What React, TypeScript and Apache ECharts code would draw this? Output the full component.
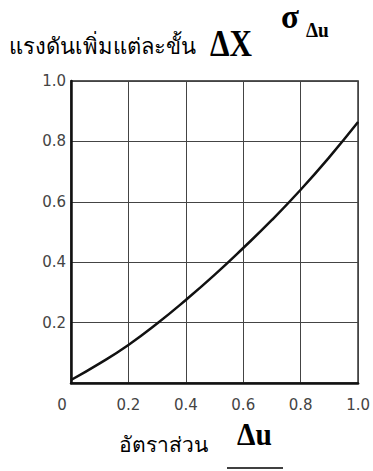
import React, { useEffect, useRef } from "react";
import * as echarts from "echarts";

const ratioValues = [0, 0.1, 0.2, 0.3, 0.4, 0.5, 0.6, 0.7, 0.8, 0.9, 1.0];
const pressureValues = [0.01, 0.065, 0.126, 0.197, 0.275, 0.358, 0.447, 0.54, 0.64, 0.748, 0.864];
const titleThai = "แรงดันเพิ่มแต่ละขั้น";
const titleSymbol = "ΔX";
const sigmaText = "σ";
const sigmaSub = "Δu";
const xNameThai = "อัตราส่วน";
const xNameSymbol = "Δu";

export default function App() {
  const ref = useRef<HTMLDivElement>(null);
  useEffect(() => {
    if (!ref.current) return;
    const chart = echarts.init(ref.current, null, { renderer: "svg" });
    const tickFont = { fontFamily: "DejaVu Sans", fontSize: 15, color: "#444" };
    chart.setOption({
      animation: false,
      backgroundColor: "#fff",
      grid: {
        left: 71,
        right: 10,
        top: 81,
        bottom: 88,
        show: true,
        borderColor: "#222",
        borderWidth: 1.5,
      },
      xAxis: {
        type: "value",
        min: 0,
        max: 1,
        interval: 0.2,
        axisLine: { show: true, lineStyle: { color: "#111", width: 2.5 } },
        axisTick: { show: false },
        splitLine: { show: true, lineStyle: { color: "#444", width: 1 } },
        axisLabel: {
          ...tickFont,
          margin: 14,
          formatter: (v: number) => (v === 0 ? "{z|0}" : v.toFixed(1)),
          rich: { z: { ...tickFont, padding: [0, 18, 0, 0] } },
        },
      },
      yAxis: {
        type: "value",
        min: 0,
        max: 1,
        interval: 0.2,
        axisLine: { show: true, lineStyle: { color: "#111", width: 2.5 } },
        axisTick: { show: false },
        splitLine: { show: true, lineStyle: { color: "#444", width: 1 } },
        axisLabel: {
          ...tickFont,
          margin: 5,
          showMinLabel: false,
          formatter: (v: number) => v.toFixed(1),
        },
      },
      series: [
        {
          type: "line",
          smooth: true,
          showSymbol: false,
          data: ratioValues.map((x, i) => [x, pressureValues[i]]),
          lineStyle: { color: "#111", width: 2.5 },
        },
      ],
      graphic: [
        {
          type: "text",
          left: 9,
          top: 34,
          style: { text: titleThai, fontFamily: "Noto Sans, sans-serif", fontSize: 22, fill: "#000" },
        },
        {
          type: "text",
          x: 210,
          y: 24,
          scaleX: 0.82,
          style: { text: titleSymbol, fontFamily: "Liberation Serif", fontWeight: "bold", fontSize: 38, fill: "#000" },
        },
        {
          type: "text",
          x: 281,
          y: 0,
          style: { text: sigmaText, fontFamily: "Liberation Serif", fontWeight: "bold", fontSize: 33, fill: "#000" },
        },
        {
          type: "text",
          x: 306,
          y: 19,
          scaleX: 0.92,
          style: { text: sigmaSub, fontFamily: "Liberation Serif", fontWeight: "bold", fontSize: 21, fill: "#000" },
        },
        {
          type: "text",
          left: 119,
          top: 433,
          style: { text: xNameThai, fontFamily: "Noto Sans, sans-serif", fontSize: 21, fill: "#000" },
        },
        {
          type: "text",
          x: 237,
          y: 419,
          scaleX: 0.92,
          style: { text: xNameSymbol, fontFamily: "Liberation Serif", fontWeight: "bold", fontSize: 32, fill: "#000" },
        },
        {
          type: "line",
          shape: { x1: 227, y1: 468, x2: 283, y2: 468 },
          style: { stroke: "#000", lineWidth: 1.5 },
        },
      ],
    });
    return () => chart.dispose();
  }, []);
  return (
    <div
      ref={ref}
      style={{ position: "fixed", left: 0, top: 0, width: 373, height: 471 }}
    />
  );
}
